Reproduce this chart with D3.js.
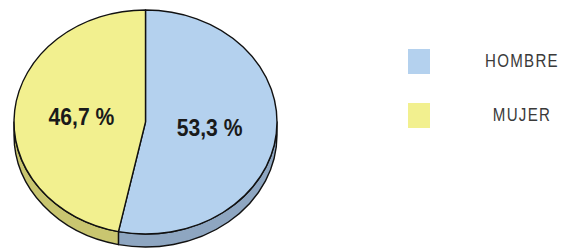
<!DOCTYPE html>
<html>
<head>
<meta charset="utf-8">
<script src="https://cdn.jsdelivr.net/npm/d3@7"></script>
<style>
  body { margin: 0; background: #fff; }
  svg { display: block; }
</style>
</head>
<body>
<div id="chart"></div>
<script>
// data
const categories = ["HOMBRE", "MUJER"];
const values = [53.3, 46.7];
const labels = ["53,3 %", "46,7 %"];

const topColors = ["#b4d1ee", "#f2f08f"];
const sideColors = ["#8ea6c1", "#c9c670"];

const width = 563, height = 251;
const cx = 145.5, cy = 122, rx = 131.5, ry = 112, depth = 13;

const svg = d3.select("#chart")
  .append("svg")
  .attr("width", width)
  .attr("height", height);

const pie = d3.pie().sort(null).value(d => d)(values);

// point on the ellipse for angle t (0 = top, clockwise)
const pt = (t, dy = 0) => [cx + rx * Math.sin(t), cy - ry * Math.cos(t) + dy];

// --- side walls (only the front half is visible) ---
const sides = svg.append("g").attr("class", "sides");
pie.forEach((d, i) => {
  const s = Math.max(d.startAngle, Math.PI / 2);
  const e = Math.min(d.endAngle, Math.PI * 3 / 2);
  if (e <= s) return;
  const p0 = pt(s), p1 = pt(e), q1 = pt(e, depth), q0 = pt(s, depth);
  const large = (e - s) > Math.PI ? 1 : 0;
  const path = `M${p0}A${rx},${ry} 0 ${large} 1 ${p1}L${q1}A${rx},${ry} 0 ${large} 0 ${q0}Z`;
  sides.append("path")
    .attr("d", path)
    .attr("fill", sideColors[i])
    .attr("stroke", "#111")
    .attr("stroke-width", 1.4)
    .attr("stroke-linejoin", "round");
});

// --- top face: circular arcs squashed into an ellipse ---
const arc = d3.arc().innerRadius(0).outerRadius(rx);
const topFace = svg.append("g")
  .attr("transform", `translate(${cx},${cy}) scale(1,${ry / rx})`);

topFace.selectAll("path")
  .data(pie)
  .join("path")
  .attr("d", arc)
  .attr("fill", (d, i) => topColors[i])
  .attr("stroke", "#111")
  .attr("stroke-width", 1.4)
  .attr("stroke-linejoin", "round")
  .attr("vector-effect", "non-scaling-stroke");

// --- value labels (condensed look via horizontal squeeze) ---
const labelArc = d3.arc().innerRadius(rx * 0.5).outerRadius(rx * 0.5);
svg.append("g")
  .selectAll("text")
  .data(pie)
  .join("text")
  .attr("transform", d => {
    const c = labelArc.centroid(d);
    return `translate(${cx + c[0] * 0.98},${cy + c[1] * ry / rx}) scale(0.88,1)`;
  })
  .attr("text-anchor", "middle")
  .attr("dy", "0.35em")
  .attr("font-family", "'Liberation Sans', Arial, sans-serif")
  .attr("font-weight", "bold")
  .attr("font-size", 24)
  .attr("fill", "#1a1a1a")
  .text((d, i) => labels[i]);

// --- legend ---
const legendY = d3.scalePoint().domain(categories).range([61, 115]);
const legend = svg.append("g")
  .selectAll("g")
  .data(categories)
  .join("g")
  .attr("transform", d => `translate(0,${legendY(d)})`);

legend.append("rect")
  .attr("x", 408)
  .attr("y", -12)
  .attr("width", 22)
  .attr("height", 25)
  .attr("fill", (d, i) => topColors[i]);

legend.append("text")
  .attr("transform", "translate(522,0) scale(0.84,1)")
  .attr("dy", "0.36em")
  .attr("text-anchor", "middle")
  .attr("font-family", "'Liberation Sans', Arial, sans-serif")
  .attr("font-size", 18)
  .attr("letter-spacing", 1.5)
  .attr("fill", "#3a3a3a")
  .text(d => d);
</script>
</body>
</html>
